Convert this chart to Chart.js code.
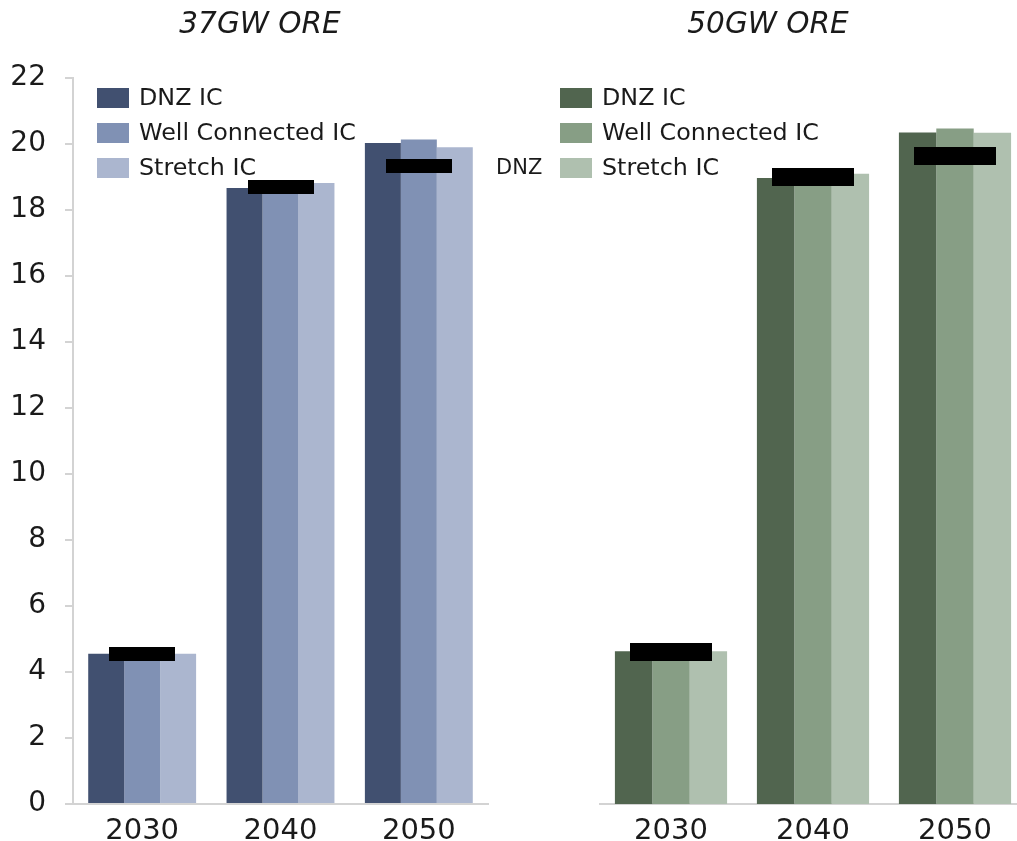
<!DOCTYPE html>
<html>
<head>
<meta charset="utf-8">
<title>Capacity by interconnection case</title>
<script src="https://cdn.jsdelivr.net/npm/chart.js@4.4.1/dist/chart.umd.min.js"></script>
<style>
  html, body { margin: 0; padding: 0; background: #fff; overflow: hidden; width: 1017px; height: 841px; }
  #wrap { position: relative; width: 1017px; height: 841px; overflow: hidden; }
  canvas { position: absolute; top: 0; display: block; }
  #c37 { left: 0; }
  #c50 { left: 503px; }
  #dnzNote { position: absolute; left: 496px; top: 155px; font: 21px 'DejaVu Sans', sans-serif; line-height: 24px; color: #1a1a1a; }
</style>
</head>
<body>
<div id="wrap">
  <canvas id="c37" width="520" height="880"></canvas>
  <canvas id="c50" width="530" height="880"></canvas>
  <div id="dnzNote">DNZ</div>
</div>
<script>
// Years on the category axis
const years = ['2030', '2040', '2050'];
const yTickMax = 22;
const yTickStep = 2;

// 37GW offshore wind case
const ore37DnzIC       = [4.55, 18.67, 20.03];
const ore37WellConnIC  = [4.55, 18.67, 20.14];
const ore37StretchIC   = [4.55, 18.82, 19.90];
const ore37DnzTarget   = [4.55, 18.70, 19.34];

// 50GW offshore wind case
const ore50DnzIC       = [4.63, 18.97, 20.35];
const ore50WellConnIC  = [4.63, 19.03, 20.47];
const ore50StretchIC   = [4.63, 19.10, 20.34];
const ore50DnzTarget   = [4.61, 19.00, 19.65];

const seriesNames = ['DNZ IC', 'Well Connected IC', 'Stretch IC'];

const FONT = "'DejaVu Sans', 'Verdana', sans-serif";
const AXIS_GREY = '#d3d3d3';
const TEXT = '#1a1a1a';

// Flat black bar used as the DNZ target marker
function markerImage(w, h) {
  const c = document.createElement('canvas');
  c.width = w; c.height = h;
  const g = c.getContext('2d');
  g.fillStyle = '#000';
  g.fillRect(0, 0, w, h);
  return c;
}

// Legend drawn as a column of swatches inside the plot
const panelLegend = {
  id: 'panelLegend',
  afterDraw(chart, args, opts) {
    const ctx = chart.ctx;
    ctx.save();
    ctx.font = opts.size + 'px ' + FONT;
    ctx.textBaseline = 'middle';
    ctx.textAlign = 'left';
    chart.data.datasets.filter(d => d.type !== 'line').forEach((ds, i) => {
      const y = opts.top + i * opts.rowGap;
      ctx.fillStyle = ds.backgroundColor;
      ctx.fillRect(opts.left, y, opts.boxWidth, opts.boxHeight);
      ctx.fillStyle = TEXT;
      ctx.fillText(ds.label, opts.left + opts.boxWidth + opts.gap, y + opts.boxHeight / 2 + 1);
    });
    ctx.restore();
  }
};

function buildChart(canvasId, title, values, target, colors, cfg) {
  const bars = values.map((v, i) => ({
    type: 'bar',
    label: seriesNames[i],
    data: v,
    backgroundColor: colors[i],
    borderWidth: 0,
    categoryPercentage: cfg.catPct,
    barPercentage: 1,
    order: 2
  }));
  const marker = {
    type: 'line',
    label: 'DNZ',
    data: target,
    showLine: false,
    pointStyle: markerImage(cfg.markW, cfg.markH),
    pointRadius: 6,
    order: 0
  };
  const showY = cfg.showY;
  return new Chart(document.getElementById(canvasId), {
    type: 'bar',
    data: { labels: years, datasets: [...bars, marker] },
    options: {
      responsive: false,
      animation: false,
      devicePixelRatio: 1,
      events: [],
      layout: { padding: 0 },
      plugins: {
        legend: { display: false },
        tooltip: { enabled: false },
        title: {
          display: true,
          text: title,
          color: TEXT,
          font: { family: FONT, size: 29.5, style: 'italic', weight: 'normal', lineHeight: 1.2 },
          padding: { top: 8, bottom: 34.6 }
        },
        panelLegend: { left: cfg.legendLeft, top: 88, boxWidth: 32, boxHeight: 20, gap: 10, rowGap: 35, size: 23.8 }
      },
      scales: {
        x: {
          grid: { display: false, drawTicks: false },
          border: { display: true, color: AXIS_GREY, width: 2 },
          ticks: { color: TEXT, font: { family: FONT, size: 29 }, padding: 10, maxRotation: 0 },
          afterFit(scale) { scale.height = 880 - 804; }
        },
        y: {
          min: 0,
          max: yTickMax,
          ticks: {
            display: showY,
            stepSize: yTickStep,
            color: TEXT,
            font: { family: FONT, size: 28 },
            padding: 19
          },
          grid: {
            display: showY,
            drawOnChartArea: false,
            drawTicks: true,
            tickLength: 8,
            color: AXIS_GREY,
            lineWidth: 2
          },
          border: { display: showY, color: AXIS_GREY, width: 2 },
          afterFit(scale) { scale.width = cfg.yWidth; }
        },
        // empty margin on the right of the plot, keeps the title centred on the panel
        gutter: {
          type: 'linear',
          position: 'right',
          display: cfg.rightGutter > 0,
          ticks: { display: false },
          grid: { display: false },
          border: { display: false },
          afterFit(scale) { scale.width = cfg.rightGutter; }
        }
      }
    },
    plugins: [panelLegend]
  });
}

buildChart('c37', '37GW ORE',
  [ore37DnzIC, ore37WellConnIC, ore37StretchIC], ore37DnzTarget,
  ['#415070', '#8091b4', '#abb6cf'],
  { catPct: 0.78, markW: 66, markH: 14, yWidth: 73, rightGutter: 32, showY: true, legendLeft: 97 });

buildChart('c50', '50GW ORE',
  [ore50DnzIC, ore50WellConnIC, ore50StretchIC], ore50DnzTarget,
  ['#51654f', '#879e85', '#afc0af'],
  { catPct: 0.79, markW: 82, markH: 18, yWidth: 97, rightGutter: 0, showY: false, legendLeft: 57 });
</script>
</body>
</html>
